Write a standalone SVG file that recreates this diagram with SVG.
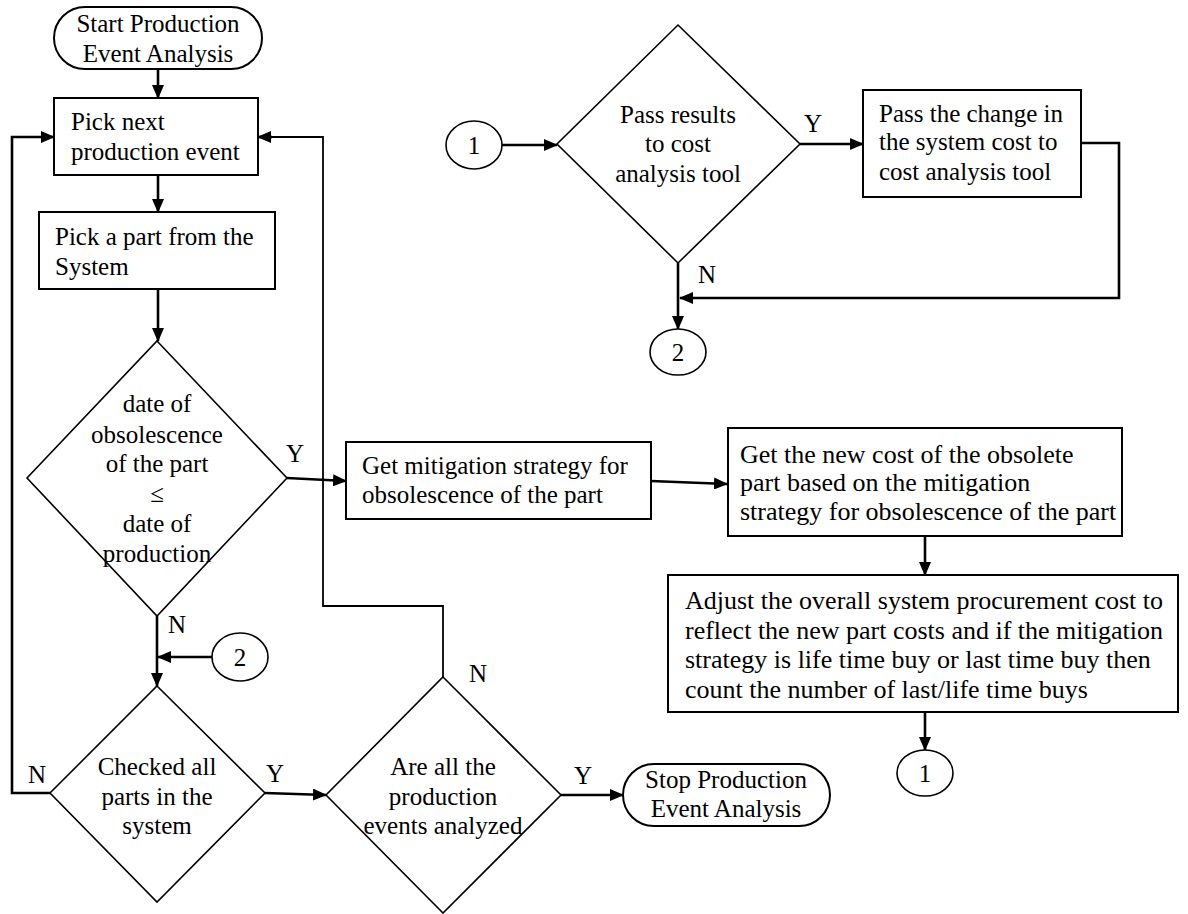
<svg xmlns="http://www.w3.org/2000/svg" width="1188" height="914" viewBox="0 0 1188 914" font-family="Liberation Serif, Tinos, Times New Roman, DejaVu Serif, serif" font-size="25">
<style>
.box{fill:#fff;stroke:#000;stroke-width:2}
.dia{fill:#fff;stroke:#000;stroke-width:1.6}
.con{fill:none;stroke:#000;stroke-width:2.6}
.thin{fill:none;stroke:#000;stroke-width:1.8}
.c{text-anchor:middle}
</style>
<defs>
<marker id="ah" markerUnits="userSpaceOnUse" markerWidth="14" markerHeight="12" refX="13" refY="6" orient="auto">
<path d="M0,0 L14,6 L0,12 z" fill="#000"/>
</marker>
</defs>
<rect width="1188" height="914" fill="#fff"/>
<g id="connectors">
<path class="con" d="M158,69 V98" marker-end="url(#ah)"/>
<path class="con" d="M158,175 V212" marker-end="url(#ah)"/>
<path class="con" d="M158,289 V341" marker-end="url(#ah)"/>
<path class="con" d="M287,478 L346,481" marker-end="url(#ah)"/>
<path class="con" d="M651,481 L727,484" marker-end="url(#ah)"/>
<path class="con" d="M925,536 V575" marker-end="url(#ah)"/>
<path class="con" d="M925,712 V750" marker-end="url(#ah)"/>
<path class="con" d="M157,616 V686" marker-end="url(#ah)"/>
<path class="con" d="M212,657 H158" marker-end="url(#ah)"/>
<path class="con" d="M265,793 L326,795" marker-end="url(#ah)"/>
<path class="con" d="M50,793 H12 V137 H54" marker-end="url(#ah)"/>
<path class="thin" d="M443,677 V606 H323 V137 H270"/>
<path class="con" d="M272,137 H258" marker-end="url(#ah)"/>
<path class="con" d="M561,795 H623" marker-end="url(#ah)"/>
<path class="con" d="M502,145 H557" marker-end="url(#ah)"/>
<path class="con" d="M800,144 H863" marker-end="url(#ah)"/>
<path class="con" d="M1081,143 H1119 V298 H680" marker-end="url(#ah)"/>
<path class="con" d="M678,263 V329" marker-end="url(#ah)"/>
</g>
<g id="start">
<rect class="box" x="54" y="7" width="208" height="62" rx="31"/>
<text class="c" x="158" y="32">Start Production</text>
<text class="c" x="158" y="62">Event Analysis</text>
</g>
<g id="pick-event">
<rect class="box" x="54" y="98" width="204" height="77"/>
<text x="71" y="130">Pick next</text>
<text x="71" y="160">production event</text>
</g>
<g id="pick-part">
<rect class="box" x="39" y="212" width="236" height="77"/>
<text x="55" y="245">Pick a part from the</text>
<text x="55" y="275">System</text>
</g>
<g id="decision-obsolescence">
<polygon class="dia" points="157,341 287,478 157,616 27,478"/>
<text class="c" x="157" y="412">date of</text>
<text class="c" x="157" y="443">obsolescence</text>
<text class="c" x="157" y="472">of the part</text>
<text class="c" x="157" y="502">≤</text>
<text class="c" x="157" y="532">date of</text>
<text class="c" x="157" y="562">production</text>
</g>
<g id="get-mitigation">
<rect class="box" x="346" y="442" width="305" height="77"/>
<text x="362" y="474">Get mitigation strategy for</text>
<text x="362" y="503">obsolescence of the part</text>
</g>
<g id="get-new-cost" font-size="26">
<rect class="box" x="728" y="428" width="394" height="108"/>
<text x="740" y="463">Get the new cost of the obsolete</text>
<text x="740" y="491">part based on the mitigation</text>
<text x="740" y="520">strategy for obsolescence of the part</text>
</g>
<g id="adjust" font-size="26">
<rect class="box" x="668" y="575" width="510" height="137"/>
<text x="685" y="609">Adjust the overall system procurement cost to</text>
<text x="685" y="639">reflect the new part costs and if the mitigation</text>
<text x="685" y="668">strategy is life time buy or last time buy then</text>
<text x="685" y="698">count the number of last/life time buys</text>
</g>
<g id="connector-1-out">
<ellipse class="dia" cx="925" cy="773" rx="28" ry="23"/>
<text class="c" x="925" y="782">1</text>
</g>
<g id="connector-2-in">
<ellipse class="dia" cx="240" cy="657" rx="28" ry="24"/>
<text class="c" x="240" y="666">2</text>
</g>
<g id="decision-checked">
<polygon class="dia" points="157,686 265,793 157,902 50,793"/>
<text class="c" x="157" y="775">Checked all</text>
<text class="c" x="157" y="805">parts in the</text>
<text class="c" x="157" y="834">system</text>
</g>
<g id="decision-events">
<polygon class="dia" points="443,677 561,795 443,913 326,795"/>
<text class="c" x="443" y="775">Are all the</text>
<text class="c" x="443" y="805">production</text>
<text class="c" x="443" y="834">events analyzed</text>
</g>
<g id="stop">
<rect class="box" x="623" y="764" width="207" height="62" rx="31"/>
<text class="c" x="726" y="788">Stop Production</text>
<text class="c" x="726" y="817">Event Analysis</text>
</g>
<g id="connector-1-in">
<ellipse class="dia" cx="474" cy="145" rx="28" ry="24"/>
<text class="c" x="474" y="154">1</text>
</g>
<g id="decision-pass">
<polygon class="dia" points="678,25 800,144 678,263 557,144"/>
<text class="c" x="678" y="123">Pass results</text>
<text class="c" x="678" y="152">to cost</text>
<text class="c" x="678" y="182">analysis tool</text>
</g>
<g id="pass-change">
<rect class="box" x="863" y="90" width="218" height="107"/>
<text x="879" y="122">Pass the change in</text>
<text x="879" y="150">the system cost to</text>
<text x="879" y="180">cost analysis tool</text>
</g>
<g id="connector-2-out">
<ellipse class="dia" cx="678" cy="352" rx="28" ry="23"/>
<text class="c" x="678" y="361">2</text>
</g>
<g id="labels">
<text x="286" y="462">Y</text>
<text x="168" y="633">N</text>
<text x="266" y="782">Y</text>
<text x="28" y="783">N</text>
<text x="469" y="682">N</text>
<text x="574" y="784">Y</text>
<text x="804" y="132">Y</text>
<text x="698" y="283">N</text>
</g>
</svg>
